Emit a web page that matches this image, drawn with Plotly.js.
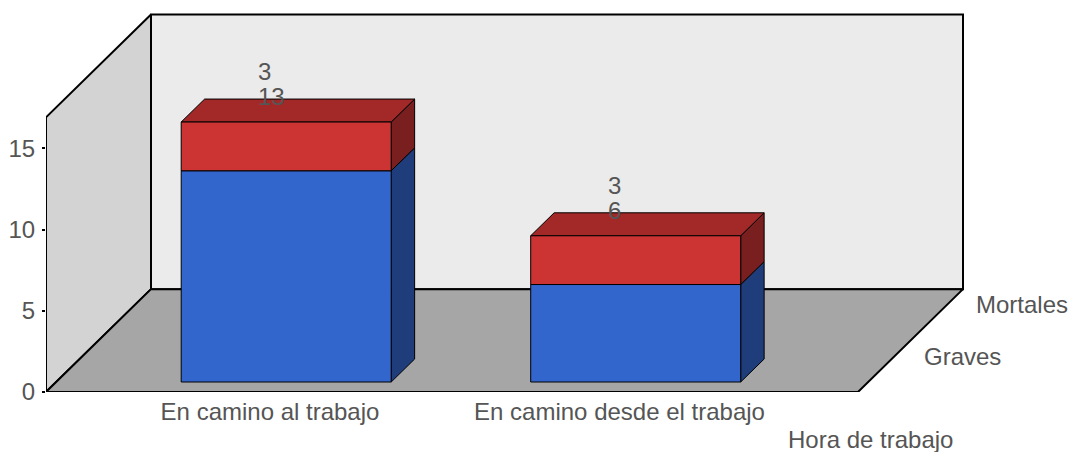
<!DOCTYPE html>
<html>
<head>
<meta charset="utf-8">
<script src="https://cdn.plot.ly/plotly-3.0.1.min.js"></script>
<style>html,body{margin:0;padding:0;background:#fff}#c{width:1070px;height:452px}</style>
</head>
<body>
<div id="c"></div>
<script>
// Data
const categories = ["En camino al trabajo", "En camino desde el trabajo"];
const seriesNames = ["Graves", "Mortales"];
const graves = [13, 6];
const mortales = [3, 3];
const yTicks = [0, 5, 10, 15];
const axisTitle = "Hora de trabajo";

// Scales: pixels per axis unit, used only to fix the axis ranges and the oblique projection
const W = 1070, H = 452, L = 46, B = 59.5;
const pxX = 349.5, pxY = 16.27;
const xMin = -(270 - L) / pxX, xMax = xMin + (W - L) / pxX;
const yMax = (H - B) / pxY;
const depthX = 105 / pxX, depthY = 103 / pxY;       // full depth of the box in axis units
const floorRight = xMin + 812 / pxX;
const wallTop = 16.9;
const barShift = 6 / pxX, barW = 210 / pxX;
const barFront = 10 / 103, barBack = 33 / 103;      // depth fractions
const text = "#555555", font = "Liberation Sans, Arial, sans-serif";

// Oblique projection from (x, value, depth) to axis coordinates
const P = (x, v, d) => [x + d * depthX, v + d * depthY];

function poly(pts, fill, lw, lc) {
  const c = pts.concat([pts[0]]);
  return {
    type: "scatter", mode: "lines", x: c.map(p => p[0]), y: c.map(p => p[1]),
    fill: "toself", fillcolor: fill,
    line: { color: lc || "#000", width: lw }, hoverinfo: "skip", showlegend: false
  };
}

const traces = [
  poly([P(xMin,0,1), P(floorRight,0,1), P(floorRight,wallTop,1), P(xMin,wallTop,1)], "#ebebeb", 2),
  poly([P(xMin,0,0), P(xMin,0,1), P(xMin,wallTop,1), P(xMin,wallTop,0)], "#d3d3d3", 2),
  poly([P(xMin,0,0), P(floorRight,0,0), P(floorRight,0,1), P(xMin,0,1)], "#a6a6a6", 2)
];

function box(x0, x1, v0, v1, front, side, top, withTop) {
  const f = barFront, b = barBack, out = [];
  out.push(poly([P(x1,v0,f), P(x1,v0,b), P(x1,v1,b), P(x1,v1,f)], side, 1));
  if (withTop) out.push(poly([P(x0,v1,f), P(x1,v1,f), P(x1,v1,b), P(x0,v1,b)], top, 1));
  out.push(poly([P(x0,v0,f), P(x1,v0,f), P(x1,v1,f), P(x0,v1,f)], front, 1));
  return out;
}

categories.forEach((c, i) => {
  const x0 = i + barShift - barW / 2, x1 = x0 + barW;
  traces.push(...box(x0, x1, 0, graves[i], "#3366cc", "#1f3d7a", "#264d99", false));
  traces.push(...box(x0, x1, graves[i], graves[i] + mortales[i], "#cc3333", "#7a1f1f", "#a32929", true));
});

const annFont = { family: font, size: 24, color: text };
const annotations = [];
categories.forEach((c, i) => {
  const top = graves[i] + mortales[i];
  [[graves[i], 35.5], [mortales[i], 60.5]].forEach(([val, ys]) => annotations.push({
    x: i, y: top, xref: "x", yref: "y", text: String(val), showarrow: false,
    xanchor: "left", yanchor: "middle", xshift: -13, yshift: ys, font: annFont, borderpad: 0
  }));
});
[[seriesNames[0], 0.35], [seriesNames[1], 0.85]].forEach(([name, d]) => {
  const p = P(floorRight, 0, d);
  annotations.push({
    x: p[0], y: p[1], xref: "x", yref: "y", text: name, showarrow: false,
    xanchor: "left", yanchor: "middle", xshift: 28, font: annFont, borderpad: 0
  });
});
annotations.push({
  xref: "paper", yref: "paper", x: (953.5 - L) / (W - L), y: -48 / (H - B),
  text: axisTitle, showarrow: false, xanchor: "right", yanchor: "middle", font: annFont, borderpad: 0
});

Plotly.newPlot("c", traces, {
  width: W, height: H, showlegend: false,
  margin: { l: L, r: 0, t: 0, b: B, pad: 0 },
  paper_bgcolor: "#fff", plot_bgcolor: "#fff",
  font: { family: font, size: 24, color: text },
  xaxis: {
    range: [xMin, xMax], showgrid: false, zeroline: false, showline: false,
    tickmode: "array", tickvals: categories.map((c, i) => i), ticktext: categories,
    ticks: "", tickangle: 0, tickfont: annFont, ticklabelstandoff: 3, fixedrange: true
  },
  yaxis: {
    range: [0, yMax], showgrid: false, zeroline: false, showline: false,
    tickmode: "array", tickvals: yTicks, ticktext: yTicks.map(String),
    ticks: "outside", ticklen: 3, tickwidth: 2, tickcolor: "#000",
    tickfont: annFont, ticklabelstandoff: 2, fixedrange: true
  },
  annotations
}, { displayModeBar: false, staticPlot: true });
</script>
</body>
</html>
